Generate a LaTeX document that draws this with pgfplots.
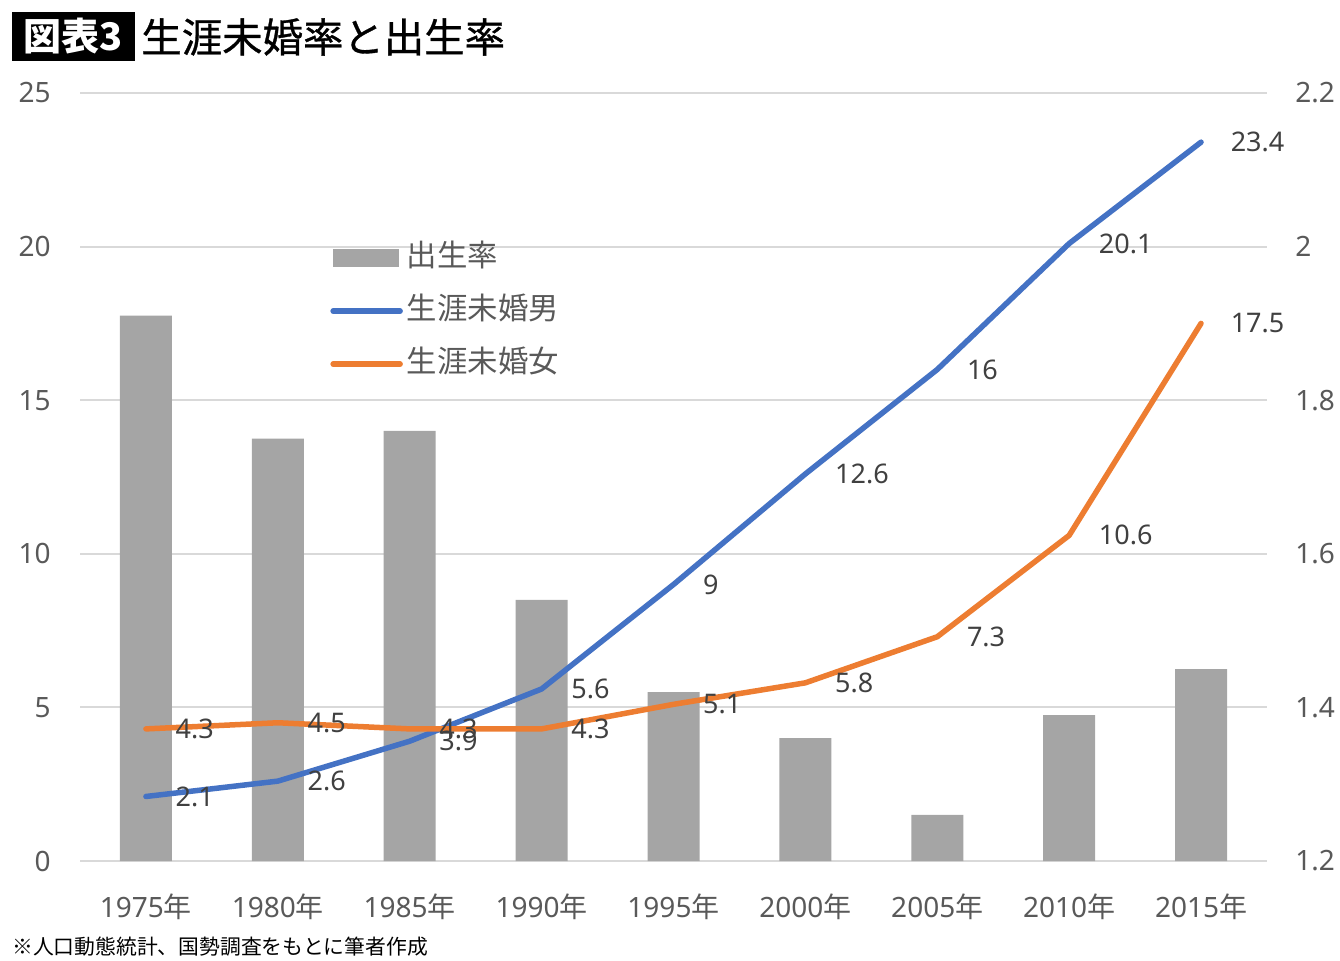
\documentclass[border=0pt]{standalone}
\usepackage{fontspec}
\setmainfont{Noto Sans}
\newfontfamily\cjk{Noto Sans CJK JP}
\newfontfamily\cjktitle[FakeBold=0.8]{Noto Sans CJK JP}
\usepackage{pgfplots}
\usepackage{pgfplotstable}
\usetikzlibrary{calc}
\pgfplotsset{compat=1.18}
\definecolor{barcol}{HTML}{A5A5A5}
\definecolor{bluecol}{HTML}{4472C4}
\definecolor{orgcol}{HTML}{ED7D31}
\definecolor{tickcol}{HTML}{595959}
\definecolor{labcol}{HTML}{404040}
\definecolor{gridcol}{HTML}{D9D9D9}

\pgfplotstableread{
x rate
0 1.91
1 1.75
2 1.76
3 1.54
4 1.42
5 1.36
6 1.26
7 1.39
8 1.45
}\birth

\pgfplotstableread{
x male female
0 2.1 4.3
1 2.6 4.5
2 3.9 4.3
3 5.6 4.3
4 9 5.1
5 12.6 5.8
6 16 7.3
7 20.1 10.6
8 23.4 17.5
}\single

\begin{document}
\begin{tikzpicture}
\begin{axis}[name=ax1, scale only axis,
  width=593.5pt, height=384pt,
  xmin=-0.5, xmax=8.5, ymin=1.2, ymax=2.2,
  axis y line*=right, axis x line*=bottom, axis line style={draw=none},
  major tick length=0pt,
  xtick={0,1,2,3,4,5,6,7,8},
  xticklabels={1975{\cjk 年},1980{\cjk 年},1985{\cjk 年},1990{\cjk 年},1995{\cjk 年},2000{\cjk 年},2005{\cjk 年},2010{\cjk 年},2015{\cjk 年}},
  ytick={1.2,1.4,1.6,1.8,2,2.2},
  yticklabels={1.2,1.4,1.6,1.8,2,2.2},
  ymajorgrids, grid style={gridcol, line width=1pt},
  ticklabel style={font=\fontsize{14pt}{16pt}\selectfont, text=tickcol, inner sep=0pt},
  xticklabel style={anchor=base, yshift=-28pt},
  yticklabel style={anchor=west, xshift=14pt},
]
\addplot[ybar, bar width=26pt, fill=barcol, draw=none] table[x=x,y=rate]{\birth};
\coordinate (pSW) at (rel axis cs:0,0);
\end{axis}

\begin{axis}[scale only axis,
  width=593.5pt, height=384pt,
  xmin=-0.5, xmax=8.5, ymin=0, ymax=25,
  axis y line*=left, hide x axis, axis line style={draw=none},
  major tick length=0pt,
  ytick={0,5,10,15,20,25},
  yticklabels={0,5,10,15,20,25},
  yticklabel style={font=\fontsize{14pt}{16pt}\selectfont, text=tickcol, inner sep=0pt, anchor=east, xshift=-14.5pt},
  clip=false,
  legend cell align=left,
  legend style={at={(0.2106,0.805)}, anchor=north west, draw=none, fill=none,
    font=\cjk\fontsize{15.2pt}{16pt}\selectfont, text=tickcol, row sep=11.5pt, inner sep=0pt,
    nodes={inner sep=0pt, text height=11.5pt, text depth=3.5pt},
    /tikz/every odd column/.append style={column sep=2pt}},
]
\addlegendimage{legend image code/.code={\fill[barcol] (0pt,-4.25pt) rectangle (32.5pt,4.25pt);}}
\addlegendentry{出生率}
\addplot[bluecol, line width=2.75pt, line cap=round, line join=round,
  nodes near coords, point meta=explicit symbolic,
  every node near coord/.append style={anchor=west, inner sep=0pt, xshift=13.5pt, font=\fontsize{13.5pt}{15pt}\selectfont, text=labcol},
  legend image code/.code={\draw[bluecol, line width=2.75pt, line cap=round] (0pt,0pt) -- (33.5pt,0pt);}]
  table[x=x,y=male,meta=male]{\single};
\addlegendentry{生涯未婚男}
\addplot[orgcol, line width=2.75pt, line cap=round, line join=round,
  nodes near coords, point meta=explicit symbolic,
  every node near coord/.append style={anchor=west, inner sep=0pt, xshift=13.5pt, font=\fontsize{13.5pt}{15pt}\selectfont, text=labcol},
  legend image code/.code={\draw[orgcol, line width=2.75pt, line cap=round] (0pt,0pt) -- (33.5pt,0pt);}]
  table[x=x,y=female,meta=female]{\single};
\addlegendentry{生涯未婚女}
\end{axis}

\coordinate (O) at ($(pSW)+(-40pt,-49.5pt)$);
\fill[black] ($(O)+(6pt,449.5pt)$) rectangle ($(O)+(67.5pt,474pt)$);
\node[white, inner sep=0pt, font=\cjk\bfseries\fontsize{19pt}{19pt}\selectfont] at ($(O)+(36.75pt,461.75pt)$) {図表3};
\node[anchor=west, inner sep=0pt, font=\cjktitle\fontsize{20.2pt}{20pt}\selectfont] at ($(O)+(70.5pt,461.5pt)$) {生涯未婚率と出生率};
\node[anchor=west, inner sep=0pt, font=\cjk\fontsize{10.4pt}{12pt}\selectfont] at ($(O)+(6pt,6.5pt)$) {※人口動態統計、国勢調査をもとに筆者作成};
\pgfresetboundingbox
\path[use as bounding box] (O) rectangle ($(O)+(670pt,480pt)$);
\end{tikzpicture}
\end{document}
